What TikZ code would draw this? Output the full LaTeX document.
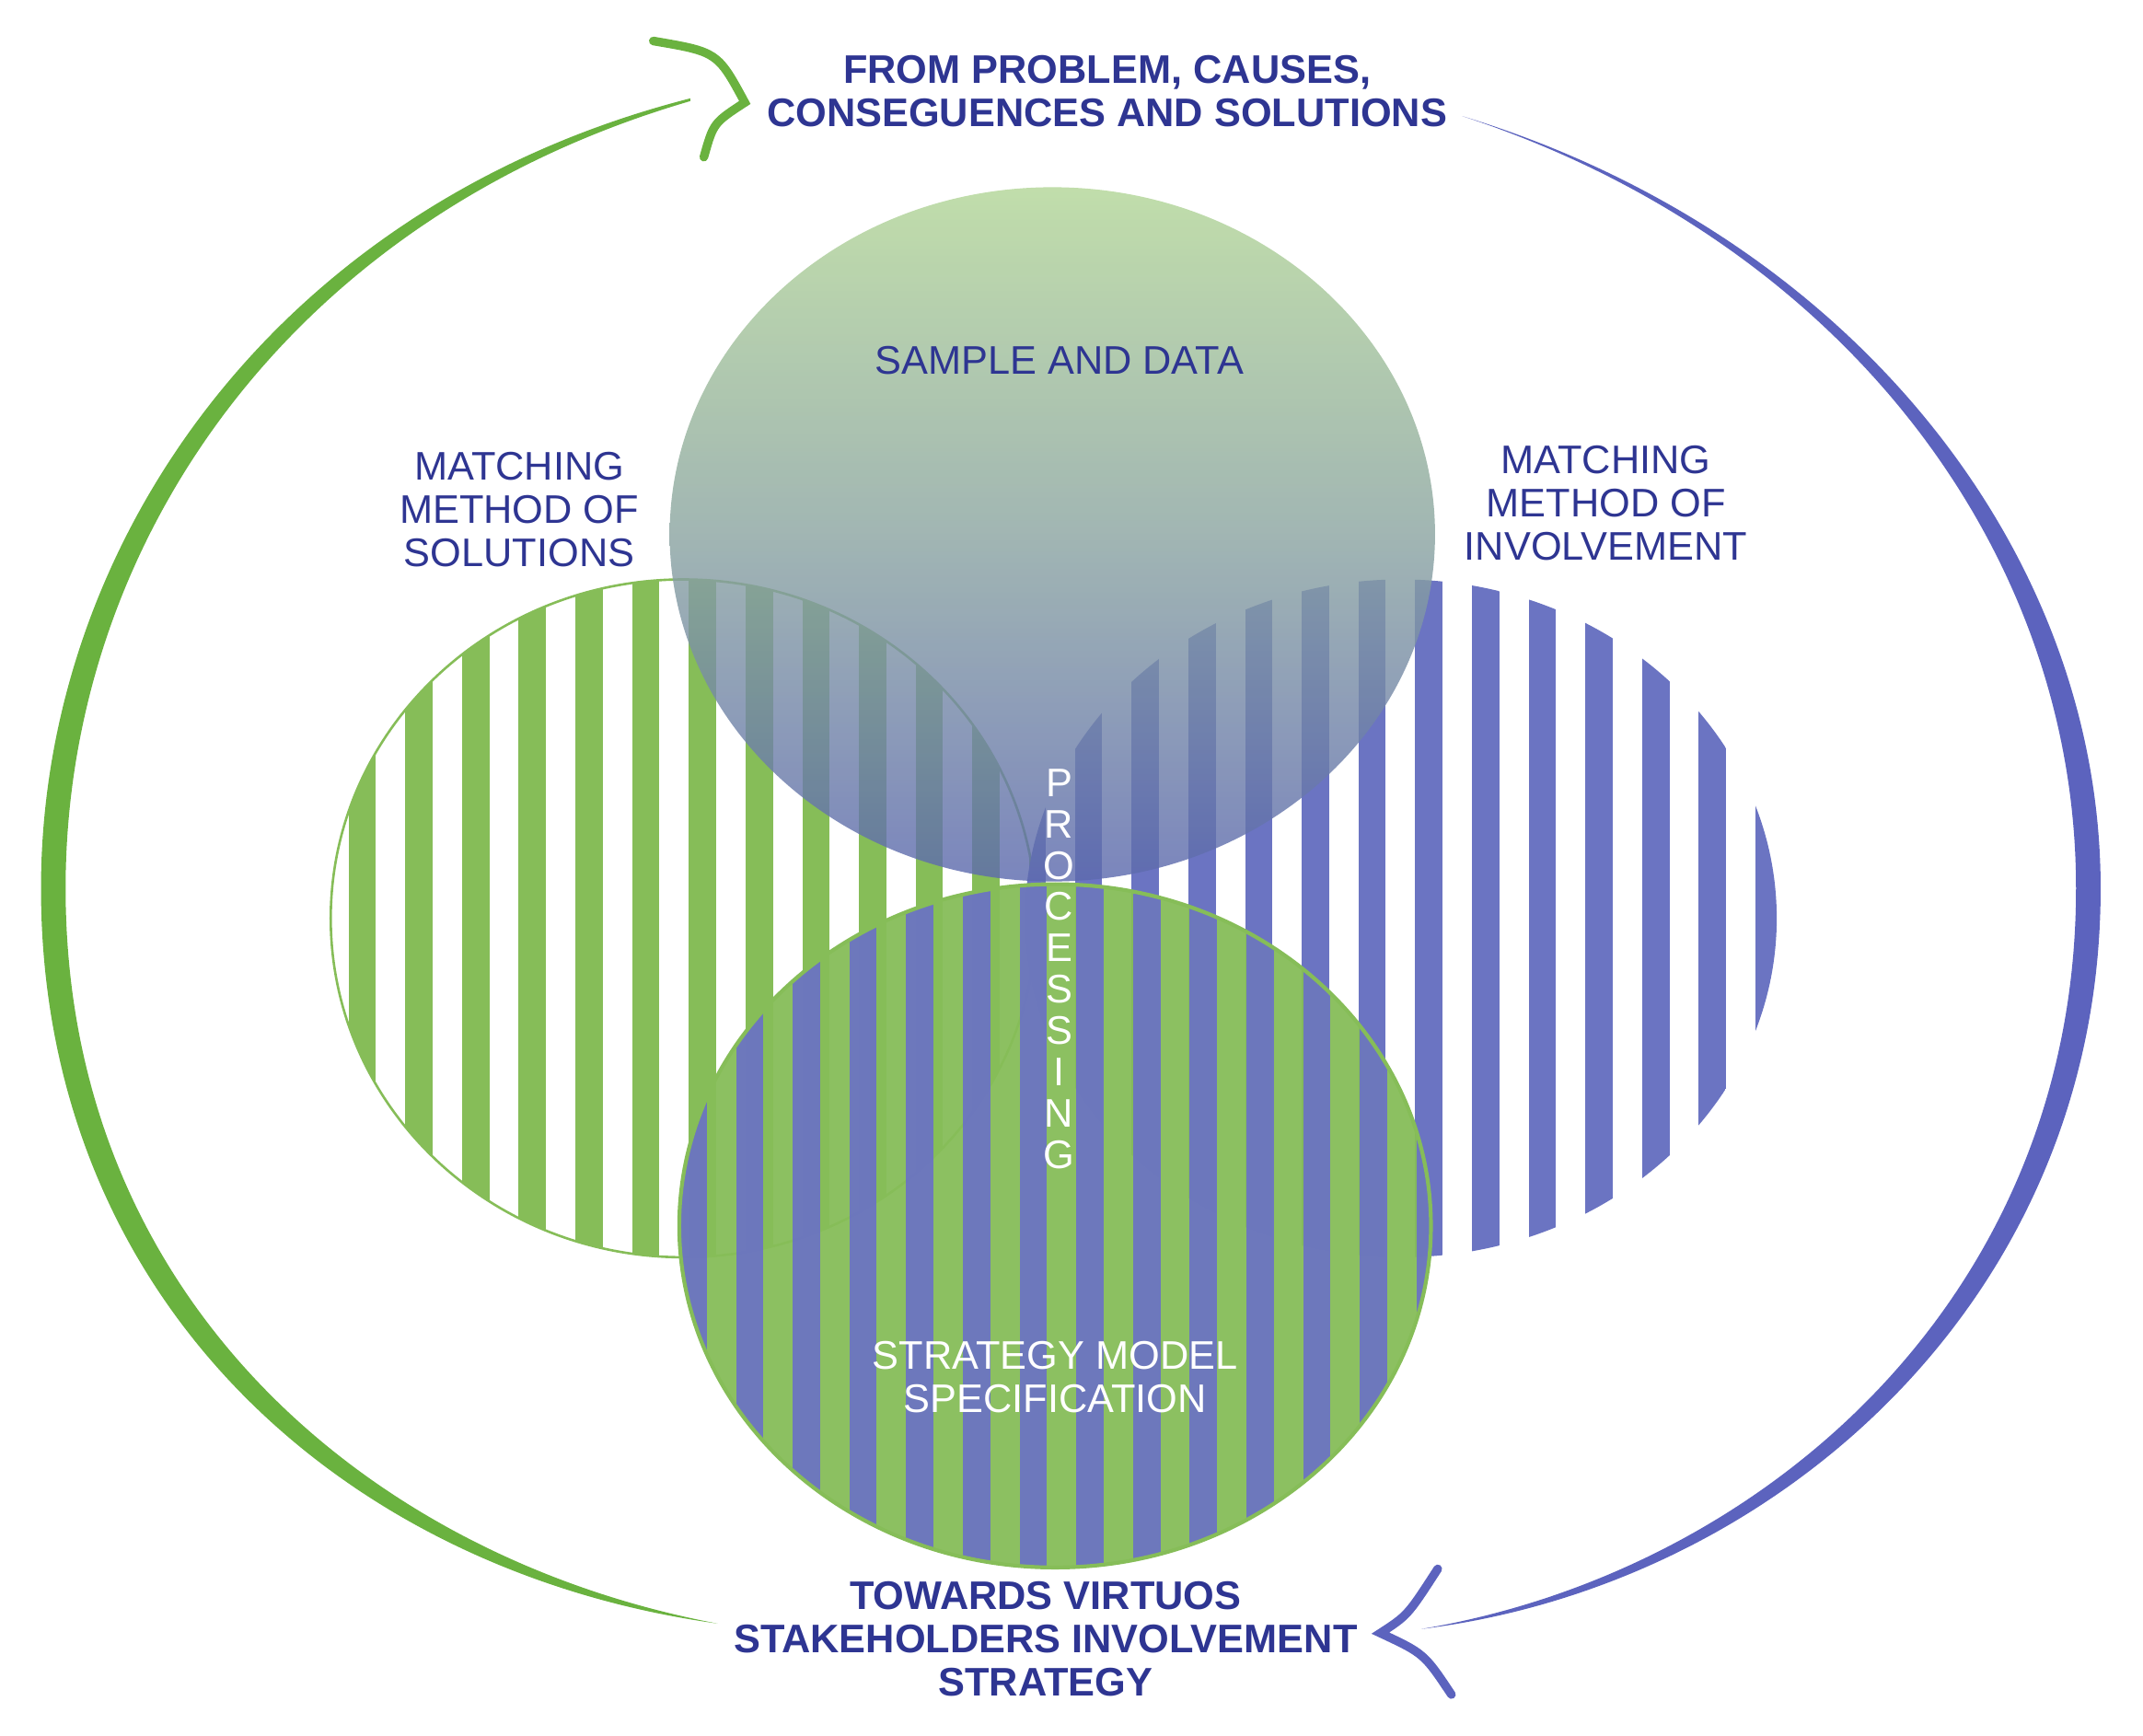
\documentclass[tikz,border=0pt]{standalone}
\usepackage{fontspec}
\setmainfont{Liberation Sans}
\begin{document}
\begin{tikzpicture}[x=0.01cm,y=-0.01cm,
  txt/.style={text=tblue,align=center,font=\fontsize{8.3}{9}\selectfont,inner sep=0},
  btxt/.style={txt,font=\bfseries\fontsize{8.3}{9}\selectfont},
  wtxt/.style={txt,text=white}]
\definecolor{gstripe}{HTML}{86BD58}
\definecolor{bstripe}{HTML}{6B74C2}
\definecolor{garc}{HTML}{6AB23F}
\definecolor{barc}{HTML}{5C63BE}
\definecolor{tblue}{HTML}{2E3592}
\definecolor{ctop}{HTML}{B3D698}
\definecolor{cbot}{HTML}{5D6AAE}
\useasboundingbox (0,0) rectangle (1568,1270);
% left ellipse
\begin{scope}
\clip (500,672) ellipse [x radius=258,y radius=248];
\foreach \i in {0,...,13} \fill[gstripe] (255+\i*41.5,400) rectangle ++(20,560);
\end{scope}
\draw[gstripe,line width=0.5pt] (500,672) ellipse [x radius=258,y radius=248];
% right ellipse
\begin{scope}
\clip (1025,672) ellipse [x radius=275,y radius=248];
\foreach \i in {0,...,14} \fill[bstripe] (745+\i*41.5,400) rectangle ++(20,560);
\end{scope}
% bottom circle
\begin{scope}
\clip (772,897) ellipse [x radius=275,y radius=250];
\fill[gstripe,opacity=0.95] (480,640) rectangle (1060,1160);
\foreach \i in {0,...,14} \fill[bstripe,opacity=0.95] (497+\i*41.5,640) rectangle ++(20,520);
\end{scope}
\draw[gstripe,line width=0.8pt] (772,897) ellipse [x radius=275,y radius=250];
% top circle
\shade[top color=ctop, bottom color=cbot, middle color=ctop!55!cbot, opacity=0.82]
  (770,391) ellipse [x radius=280,y radius=254];
% outer arcs
\fill[garc] (505,72) .. controls (200,150) and (30,400) .. (30,650)
  .. controls (30,950) and (250,1150) .. (525,1188)
  .. controls (270,1140) and (48,950) .. (48,650)
  .. controls (48,400) and (210,160) .. (505,74) -- cycle;
\fill[barc] (1070,85) .. controls (1350,170) and (1537,400) .. (1537,650)
  .. controls (1537,950) and (1300,1160) .. (1040,1192)
  .. controls (1290,1150) and (1519,950) .. (1519,650)
  .. controls (1519,400) and (1345,175) .. (1070,85) -- cycle;
\coordinate (gh1) at (478,30); \coordinate (gh2) at (545,75); \coordinate (gh3) at (515,115);
\draw[garc,line width=1.8pt,line cap=round] (gh1) .. controls (525,38) .. (gh2) .. controls (522,90) .. (gh3);
\coordinate (bh1) at (1052,1148); \coordinate (bh2) at (1010,1195); \coordinate (bh3) at (1062,1240);
\draw[barc,line width=1.8pt,line cap=round] (bh1) .. controls (1030,1182) .. (bh2) .. controls (1042,1210) .. (bh3);
% texts
\node[btxt] (top) at (810,67) {FROM PROBLEM, CAUSES,\\CONSEGUENCES AND SOLUTIONS};
\node[txt] (sample) at (775,264) {SAMPLE AND DATA};
\node[txt] (msol) at (380,373) {MATCHING\\METHOD OF\\SOLUTIONS};
\node[txt] (minv) at (1175,368) {MATCHING\\METHOD OF\\INVOLVEMENT};
\node[wtxt,font=\fontsize{8.3}{8.6}\selectfont] (proc) at (775,709) {P\\R\\O\\C\\E\\S\\S\\I\\N\\G};
\node[wtxt] (strat) at (772,1008) {STRATEGY MODEL\\SPECIFICATION};
\node[btxt] (tow) at (765,1199) {TOWARDS VIRTUOS\\STAKEHOLDERS INVOLVEMENT\\STRATEGY};
\end{tikzpicture}
\end{document}
